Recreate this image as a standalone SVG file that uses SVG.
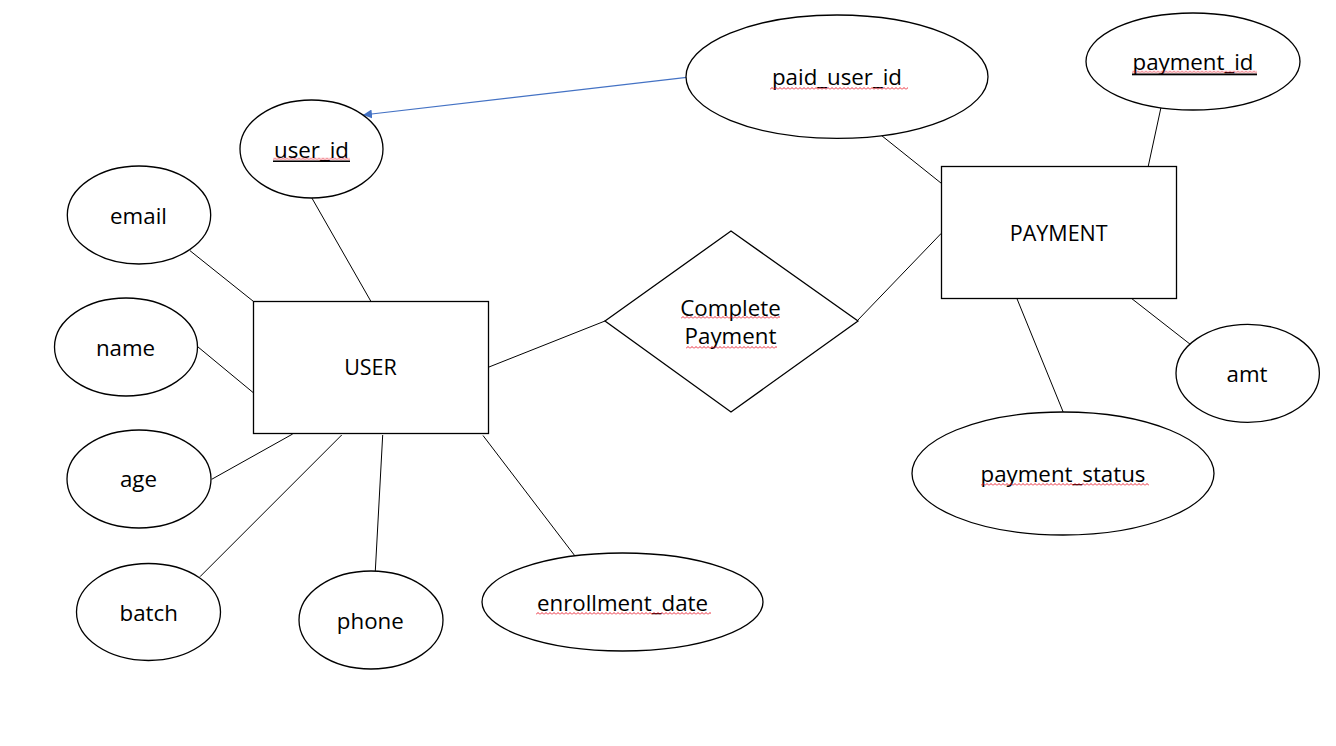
<svg xmlns="http://www.w3.org/2000/svg" width="1336" height="746" viewBox="0 0 1336 746">
<style>
.shape{fill:#fff;stroke:#000;stroke-width:1.3}
.lbl{font-family:"Open Sans","Noto Sans","Liberation Sans",sans-serif;font-size:22.3px;fill:#000;text-anchor:middle}
.up{font-size:21.5px}
.conn line{stroke:#000;stroke-width:1}
.sq{fill:url(#sq)}
.ul{fill:#000}
</style>
<defs>
<pattern id="sq" width="4" height="3" patternUnits="userSpaceOnUse">
<path d="M0,2.5 L2,0.5 L4,2.5" fill="none" stroke="#e81123" stroke-width="0.9"/>
</pattern>
<marker id="arr" viewBox="0 0 10 10" refX="10" refY="5" markerWidth="9" markerHeight="9" markerUnits="userSpaceOnUse" orient="auto">
<path d="M0,0 L10,5 L0,10 z" fill="#4472c4"/>
</marker>
</defs>
<rect width="1336" height="746" fill="#fff"/>
<g id="connectors" class="conn">
<line x1="311.7" y1="197.7" x2="370.7" y2="301"/>
<line x1="190" y1="250.7" x2="253.3" y2="301.3"/>
<line x1="197.7" y1="346.7" x2="253.3" y2="392.7"/>
<line x1="211.7" y1="479.3" x2="292.7" y2="434"/>
<line x1="200" y1="576.7" x2="341.7" y2="435"/>
<line x1="375.3" y1="571" x2="382.7" y2="435"/>
<line x1="483" y1="435.5" x2="575" y2="556"/>
<line x1="489" y1="367" x2="605" y2="321"/>
<line x1="857.3" y1="320.7" x2="941.3" y2="233.3"/>
<line x1="880" y1="134.3" x2="941.3" y2="183.3"/>
<line x1="1161" y1="107.3" x2="1148.3" y2="166"/>
<line x1="1129.3" y1="296.7" x2="1193.3" y2="346.7"/>
<line x1="1016.7" y1="298" x2="1063.3" y2="412.3"/>
<line x1="686.7" y1="77.3" x2="363" y2="115" style="stroke:#4472c4;stroke-width:1.2" marker-end="url(#arr)"/>
</g>
<g id="user">
<rect class="shape" x="253.5" y="301.5" width="235" height="132"/>
<text class="lbl up" x="370.5" y="375">USER</text>
</g>
<g id="payment">
<rect class="shape" x="941.5" y="166.5" width="235" height="132"/>
<text class="lbl up" x="1058.7" y="241">PAYMENT</text>
</g>
<g id="complete_payment">
<polygon class="shape" points="605,321 731,231 858,321 731,412"/>
<text class="lbl" x="730.5" y="316">Complete</text>
<text class="lbl" x="730.5" y="344">Payment</text>
<rect class="sq" transform="translate(681,316)" width="99" height="3"/>
<rect class="sq" transform="translate(686,346)" width="91" height="3"/>
</g>
<g id="user_id">
<ellipse class="shape" cx="311.5" cy="149" rx="71.5" ry="49"/>
<text class="lbl" x="311.5" y="158">user_id</text>
<rect class="sq" transform="translate(273,157.5)" width="77" height="3"/>
<rect class="ul" x="273" y="160.5" width="77" height="1.5"/>
</g>
<g id="email">
<ellipse class="shape" cx="139" cy="215" rx="71.7" ry="49"/>
<text class="lbl" x="138.5" y="224">email</text>
</g>
<g id="name">
<ellipse class="shape" cx="126" cy="347" rx="71.5" ry="49"/>
<text class="lbl" x="125.5" y="356">name</text>
</g>
<g id="age">
<ellipse class="shape" cx="139" cy="479" rx="72" ry="49"/>
<text class="lbl" x="138.5" y="487">age</text>
</g>
<g id="batch">
<ellipse class="shape" cx="148.5" cy="612" rx="72" ry="48.5"/>
<text class="lbl" x="148.7" y="621">batch</text>
</g>
<g id="phone">
<ellipse class="shape" cx="371" cy="620" rx="72" ry="49"/>
<text class="lbl" x="370.3" y="629">phone</text>
</g>
<g id="enrollment_date">
<ellipse class="shape" cx="622.5" cy="602" rx="140.5" ry="49"/>
<text class="lbl" x="622.5" y="611">enrollment_date</text>
<rect class="sq" transform="translate(536,612)" width="175" height="3"/>
</g>
<g id="paid_user_id">
<ellipse class="shape" cx="837" cy="76.7" rx="151" ry="61.7"/>
<text class="lbl" x="837" y="85">paid_user_id</text>
<rect class="sq" transform="translate(770,87)" width="138" height="3"/>
</g>
<g id="payment_id">
<ellipse class="shape" cx="1193" cy="61.5" rx="107" ry="48.5"/>
<text class="lbl" x="1193" y="70">payment_id</text>
<rect class="sq" transform="translate(1132,70.5)" width="125" height="3"/>
<rect class="ul" x="1132" y="73.5" width="125" height="1.8"/>
</g>
<g id="amt">
<ellipse class="shape" cx="1247.7" cy="373.3" rx="71.7" ry="49"/>
<text class="lbl" x="1247" y="382">amt</text>
</g>
<g id="payment_status">
<ellipse class="shape" cx="1063" cy="473.5" rx="151" ry="61.5"/>
<text class="lbl" x="1063" y="482">payment_status</text>
<rect class="sq" transform="translate(981,483)" width="168" height="3"/>
</g>
</svg>
